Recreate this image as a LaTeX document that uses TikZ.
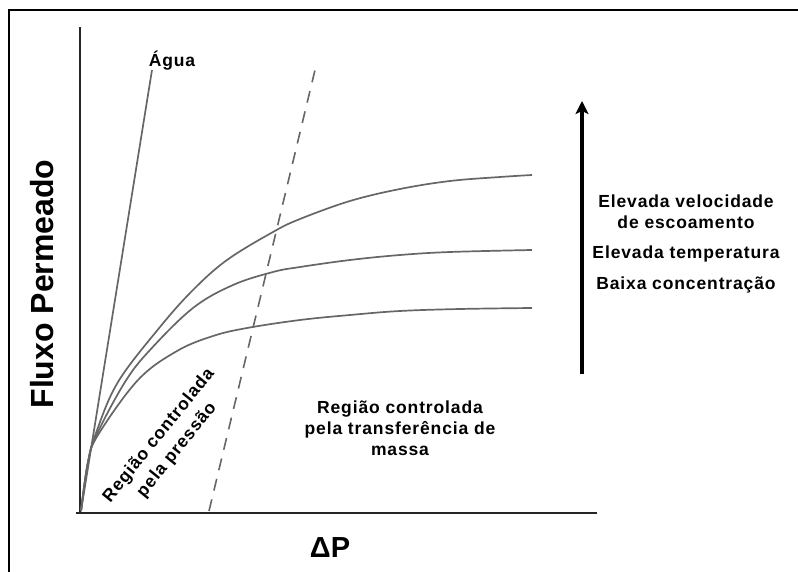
\documentclass[tikz,border=0pt]{standalone}
\usepackage{fontspec}
\setmainfont{Liberation Sans}
\newfontfamily\lblfont[LetterSpace=5]{Liberation Sans}
\usetikzlibrary{arrows.meta,positioning}

\begin{document}
\begin{tikzpicture}[x=1pt,y=-1pt,
    lbl/.style={font=\lblfont\bfseries\fontsize{17.5}{21}\selectfont, align=center, inner sep=0pt},
    curve/.style={draw=black!60, line width=1.7pt},
    axis/.style={draw=black!85, line width=2pt}]

    \useasboundingbox (0,0) rectangle (798,572);
    \draw[line width=2pt] (9,572) -- (9,10) -- (798,10);

    % axes
    \coordinate (o) at (81,511);
    \coordinate (y-top) at (80,27);
    \coordinate (y-bot) at (80,513);
    \coordinate (x-left) at (76,513);
    \coordinate (x-right) at (597,513);
    \draw[axis] (y-top) -- (y-bot);
    \draw[axis] (x-left) -- (x-right);

    % water line and limit line
    \coordinate (agua-top) at (152,70);
    \coordinate (lim-bot) at (209,511);
    \coordinate (lim-top) at (315,70);
    \draw[curve] (o) -- (agua-top);
    \draw[draw=black!60, line width=1.6pt, dash pattern=on 12pt off 9pt] (lim-bot) -- (lim-top);

    % flux curves
    \draw[curve] plot[smooth, tension=0.6] coordinates {(o) (88,462) (96,433) (118,382) (160,327) (193,290) (227,260) (273,232) (300,219) (350,201) (400,189) (450,181) (500,177) (532,175)};
    \draw[curve] plot[smooth, tension=0.6] coordinates {(o) (88,462) (97,434) (125,382) (150,350) (193,308) (233,285) (273,272) (300,267) (350,260) (400,255) (450,252) (532,250)};
    \draw[curve] plot[smooth, tension=0.6] coordinates {(o) (88,462) (98,435) (138,380) (177,351) (213,336) (247,328) (300,320) (350,315) (400,311) (460,309) (532,308)};

    % arrow
    \coordinate (arr-bot) at (582,374);
    \coordinate (arr-top) at (582,101);
    \draw[line width=3.5pt, -{Stealth[length=13pt,width=13pt,inset=3pt]}] (arr-bot) -- (arr-top);

    % labels
    \node[lbl] (agua) at (172,61) {Água};
    \node[lbl] (vel) at (686,212) {Elevada velocidade\\de escoamento};
    \node[lbl] (temp) at (686,254) {Elevada temperatura};
    \node[lbl] (conc) at (686,285) {Baixa concentração};
    \node[lbl] (massa) at (400,428) {Região controlada\\pela transferência de\\massa};
    \node[lbl, rotate=51, font=\lblfont\bfseries\fontsize{17.5}{23}\selectfont] (pressao) at (168,443) {Região controlada\\pela pressão};
    \node[font=\bfseries\fontsize{32}{36}\selectfont, rotate=90] (fluxo) at (42,284) {Fluxo Permeado};
    \node[font=\bfseries\fontsize{29}{32}\selectfont] (dp) at (330,548) {ΔP};

\end{tikzpicture}
\end{document}
